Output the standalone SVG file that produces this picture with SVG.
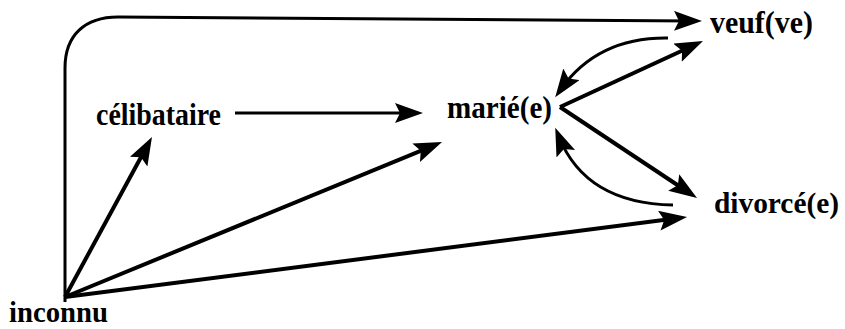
<svg xmlns="http://www.w3.org/2000/svg" width="845" height="329" viewBox="0 0 845 329">
<style>
.lbl{font-family:"Liberation Serif","Times New Roman",serif;font-weight:bold;font-size:31px;fill:#000}
.sm{font-size:29px}
.ln{fill:none;stroke:#000;stroke-width:4;stroke-linecap:butt;marker-end:url(#ah)}
.thin{stroke-width:3}
</style>
<defs>
<marker id="ah" markerUnits="userSpaceOnUse" markerWidth="30" markerHeight="22" refX="18" refY="10" orient="auto" viewBox="0 0 30 22">
<path d="M0,0 L28,10 L0,20 L5,10 z" fill="#000"/>
</marker>
</defs>
<g id="connectors">
<path class="ln thin" d="M65,302 L65,68 C65,35 85,17 118,17 L692,21"/>
<path class="ln thin" d="M235,113 L413,113"/>
<path class="ln" d="M65,297 L147.2,145.8"/>
<path class="ln" d="M65,297 L432.8,145.8"/>
<path class="ln" d="M65,297 L677.1,218.3"/>
<path class="ln" d="M560,107 L693.9,45.2"/>
<path class="ln" d="M560,107 L688.7,192.5"/>
<path class="ln thin" d="M668,38 Q598,37 561,89"/>
<path class="ln thin" d="M673,205 Q586,203.5 559,137"/>
</g>
<g id="celibataire"><text class="lbl" x="96" y="125" textLength="125" lengthAdjust="spacingAndGlyphs">célibataire</text></g>
<g id="marie"><text class="lbl" x="447" y="118" textLength="105" lengthAdjust="spacingAndGlyphs">marié(e)</text></g>
<g id="veuf"><text class="lbl" x="710" y="33" textLength="103" lengthAdjust="spacingAndGlyphs">veuf(ve)</text></g>
<g id="divorce"><text class="lbl sm" x="714" y="213" textLength="125" lengthAdjust="spacingAndGlyphs">divorcé(e)</text></g>
<g id="inconnu"><text class="lbl sm" x="9" y="322" textLength="99" lengthAdjust="spacingAndGlyphs">inconnu</text></g>
</svg>
